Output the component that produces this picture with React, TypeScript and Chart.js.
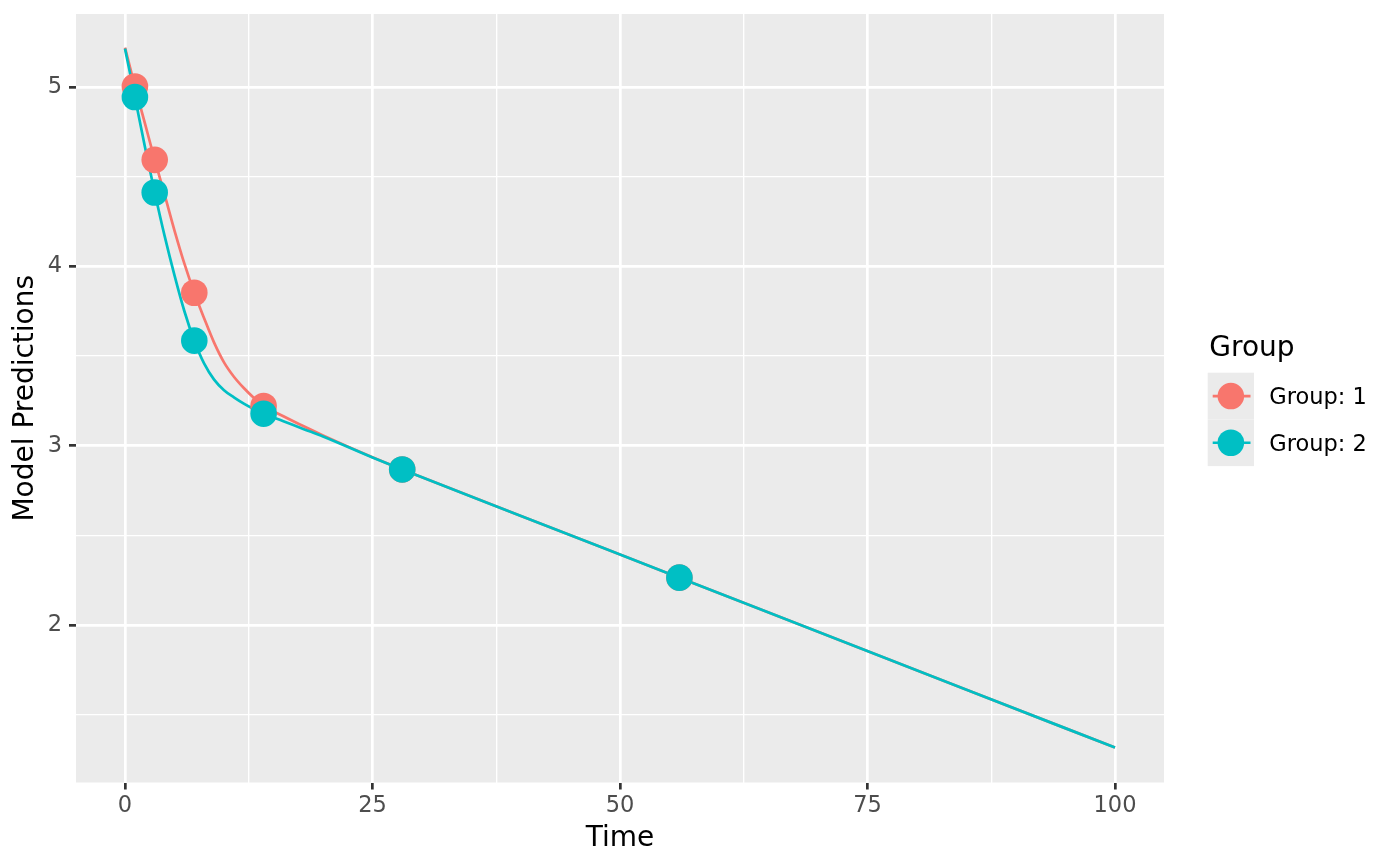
import React, { useEffect, useRef } from 'react';
import { Chart, registerables } from 'chart.js';

Chart.register(...registerables);

// ---- data ----
const curveTimes = [0, 1, 2, 3, 4, 5, 6, 7, 8, 9, 10, 11, 12, 13, 14, 16, 18, 20, 25, 28, 40, 56, 70, 85, 100];
const group1Curve = [5.22, 5.003, 4.8, 4.594, 4.4, 4.2, 4.015, 3.853, 3.71, 3.575, 3.465, 3.385, 3.322, 3.268, 3.222, 3.165, 3.11, 3.058, 2.936, 2.868, 2.609, 2.265, 1.963, 1.64, 1.318];
const group2Curve = [5.214, 4.944, 4.67, 4.412, 4.17, 3.95, 3.75, 3.586, 3.458, 3.369, 3.31, 3.27, 3.235, 3.205, 3.179, 3.137, 3.094, 3.052, 2.935, 2.868, 2.609, 2.265, 1.963, 1.64, 1.318];
const obsTimes = [1, 3, 7, 14, 28, 56];
const group1Obs = [5.003, 4.594, 3.853, 3.222, 2.868, 2.265];
const group2Obs = [4.944, 4.412, 3.586, 3.179, 2.868, 2.265];
const groupLabels = ['Group: 1', 'Group: 2'];
const groupColors = ['#F8766D', '#00BFC4'];
const xTickValues = [0, 12.5, 25, 37.5, 50, 62.5, 75, 87.5, 100];
const xMajorTicks = [0, 25, 50, 75, 100];
const yTickValues = [1.5, 2, 2.5, 3, 3.5, 4, 4.5, 5];
const yMajorTicks = [2, 3, 4, 5];
const xTitle = 'Time';
const yTitle = 'Model Predictions';
const legendTitle = 'Group';

const FONT = 'DejaVu Sans';
const MAJOR_W = 2.7;
const MINOR_W = 1.35;

const toXY = (xs: number[], ys: number[]) => xs.map((x, i) => ({ x, y: ys[i] }));

const decorPlugin = {
  id: 'decor',
  beforeDraw(chart: any) {
    const { ctx, chartArea } = chart;
    ctx.save();
    ctx.fillStyle = '#EBEBEB';
    ctx.fillRect(chartArea.left, chartArea.top, chartArea.right - chartArea.left, chartArea.bottom - chartArea.top);
    ctx.restore();
  },
  afterDraw(chart: any) {
    const { ctx, chartArea } = chart;
    ctx.save();
    // axis titles
    ctx.fillStyle = '#000000';
    ctx.font = `28px "${FONT}"`;
    ctx.textAlign = 'center';
    ctx.textBaseline = 'alphabetic';
    ctx.fillText(xTitle, (chartArea.left + chartArea.right) / 2, 845.5);
    ctx.save();
    ctx.translate(33.3, (chartArea.top + chartArea.bottom) / 2);
    ctx.rotate(-Math.PI / 2);
    ctx.fillText(yTitle, 0, 0);
    ctx.restore();

    // legend
    ctx.textAlign = 'left';
    ctx.font = `28px "${FONT}"`;
    ctx.fillText(legendTitle, 1209.3, 356);
    const keyLeft = 1207.7;
    const keyW = 46.3;
    const keyTop = 372.7;
    const keyH = 46.7;
    ctx.font = `22.5px "${FONT}"`;
    groupLabels.forEach((lab, i) => {
      const top = keyTop + i * keyH;
      ctx.fillStyle = '#EBEBEB';
      ctx.fillRect(keyLeft, top, keyW, keyH);
      const cx = keyLeft + keyW / 2;
      const cy = top + keyH / 2;
      ctx.strokeStyle = groupColors[i];
      ctx.lineWidth = MAJOR_W;
      ctx.beginPath();
      ctx.moveTo(keyLeft + 5, cy);
      ctx.lineTo(keyLeft + keyW - 3.5, cy);
      ctx.stroke();
      ctx.fillStyle = groupColors[i];
      ctx.beginPath();
      ctx.arc(cx, cy, 13.3, 0, Math.PI * 2);
      ctx.fill();
      ctx.fillStyle = '#000000';
      ctx.fillText(lab, 1269.3, cy + 8.3);
    });
    ctx.restore();
  },
};

export default function App() {
  const ref = useRef<HTMLCanvasElement>(null);

  useEffect(() => {
    document.body.style.margin = '0';
    const isXMajor = (v: number) => xMajorTicks.includes(v);
    const isYMajor = (v: number) => yMajorTicks.includes(v);

    const chart = new Chart(ref.current as HTMLCanvasElement, {
      type: 'line',
      data: {
        datasets: [
          {
            label: groupLabels[1] + ' obs',
            data: toXY(obsTimes, group2Obs),
            showLine: false,
            pointRadius: 13.3,
            pointHoverRadius: 13.3,
            pointBorderWidth: 0,
            pointBackgroundColor: groupColors[1],
            borderColor: groupColors[1],
          },
          {
            label: groupLabels[0] + ' obs',
            data: toXY(obsTimes, group1Obs),
            showLine: false,
            pointRadius: 13.3,
            pointHoverRadius: 13.3,
            pointBorderWidth: 0,
            pointBackgroundColor: groupColors[0],
            borderColor: groupColors[0],
          },
          {
            label: groupLabels[1],
            data: toXY(curveTimes, group2Curve),
            borderColor: groupColors[1],
            borderWidth: MAJOR_W,
            pointRadius: 0,
            cubicInterpolationMode: 'monotone',
            fill: false,
          },
          {
            label: groupLabels[0],
            data: toXY(curveTimes, group1Curve),
            borderColor: groupColors[0],
            borderWidth: MAJOR_W,
            pointRadius: 0,
            cubicInterpolationMode: 'monotone',
            fill: false,
          },
        ],
      },
      options: {
        animation: false,
        responsive: true,
        maintainAspectRatio: false,
        devicePixelRatio: 1,
        layout: { padding: { left: 0, right: 236, top: 14, bottom: 0 } },
        plugins: {
          legend: { display: false },
          tooltip: { enabled: false },
        },
        scales: {
          x: {
            type: 'linear',
            min: -4.95,
            max: 104.95,
            afterBuildTicks: (scale: any) => {
              scale.ticks = xTickValues.map((v) => ({ value: v }));
            },
            afterFit: (scale: any) => {
              scale.height = 83.5;
              scale.paddingLeft = 0;
              scale.paddingRight = 0;
            },
            border: { display: false },
            grid: {
              color: '#FFFFFF',
              lineWidth: (c: any) => (c.tick && isXMajor(c.tick.value) ? MAJOR_W : MINOR_W),
              tickColor: (c: any) => (c.tick && isXMajor(c.tick.value) ? '#333333' : 'rgba(0,0,0,0)'),
              tickWidth: MAJOR_W,
              tickLength: 7,
            },
            ticks: {
              autoSkip: false,
              maxRotation: 0,
              padding: 3,
              color: '#4D4D4D',
              font: { family: FONT, size: 22.5 },
              callback: (v: any) => (isXMajor(Number(v)) ? String(v) : ''),
            },
          },
          y: {
            type: 'linear',
            min: 1.123,
            max: 5.407,
            afterBuildTicks: (scale: any) => {
              scale.ticks = yTickValues.map((v) => ({ value: v }));
            },
            afterFit: (scale: any) => {
              scale.width = 76;
              scale.paddingTop = 0;
              scale.paddingBottom = 0;
            },
            border: { display: false },
            grid: {
              color: '#FFFFFF',
              lineWidth: (c: any) => (c.tick && isYMajor(c.tick.value) ? MAJOR_W : MINOR_W),
              tickColor: (c: any) => (c.tick && isYMajor(c.tick.value) ? '#333333' : 'rgba(0,0,0,0)'),
              tickWidth: MAJOR_W,
              tickLength: 7,
            },
            ticks: {
              autoSkip: false,
              padding: 7,
              color: '#4D4D4D',
              font: { family: FONT, size: 22.5 },
              callback: (v: any) => (isYMajor(Number(v)) ? String(v) : ''),
            },
          },
        },
      },
      plugins: [decorPlugin],
    } as any);

    return () => chart.destroy();
  }, []);

  return (
    <div style={{ position: 'absolute', left: 0, top: 0, width: 1400, height: 866 }}>
      <canvas ref={ref} />
    </div>
  );
}
